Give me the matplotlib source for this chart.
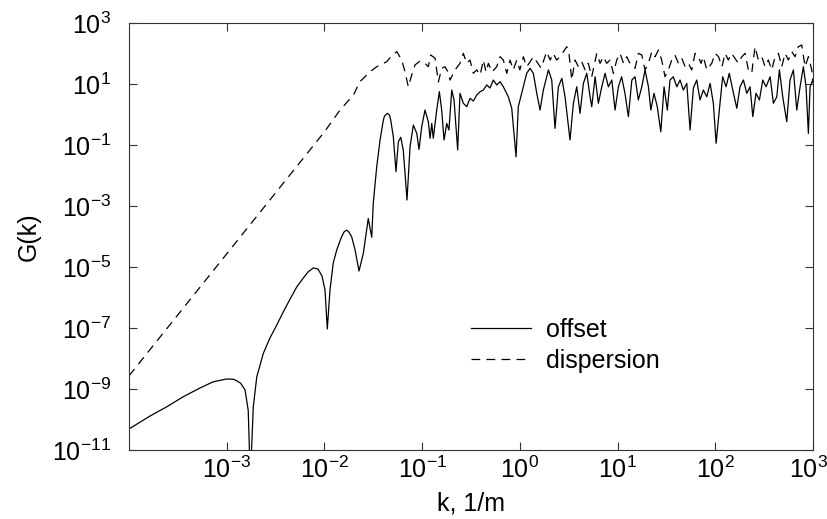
import matplotlib
matplotlib.use("Agg")
import matplotlib.pyplot as plt
from matplotlib.transforms import ScaledTranslation

plt.rcParams['font.family'] = ['Liberation Sans', 'DejaVu Sans']
plt.rcParams['mathtext.fontset'] = 'custom'
plt.rcParams['mathtext.rm'] = 'Liberation Sans'
plt.rcParams['mathtext.it'] = 'Liberation Sans:italic'
plt.rcParams['mathtext.bf'] = 'Liberation Sans:bold'

# ---- data ----
k_offset = [1.0e-4, 1.64e-4, 2.43e-4, 3.6e-4, 5.33e-4, 7.3e-4, 1.0e-3, 1.17e-3, 1.265e-3,
            1.39e-3, 1.54e-3, 1.66e-3, 1.745e-3, 1.87e-3, 2.03e-3, 2.37e-3, 2.77e-3,
            3.25e-3, 3.79e-3, 4.45e-3, 5.2e-3, 6.08e-3, 6.79e-3, 7.69e-3, 8.59e-3,
            9.44e-3, 1.014e-2, 1.07e-2, 1.14e-2, 1.23e-2, 1.336e-2, 1.48e-2, 1.585e-2,
            1.69e-2, 1.78e-2, 1.90e-2, 2.06e-2, 2.26e-2, 2.50e-2,
            2.81e-2, 3.05e-2, 3.16e-2, 3.43e-2, 3.71e-2, 4.01e-2, 4.12e-2, 4.41e-2,
            4.63e-2, 4.77e-2,
            5.07e-2, 5.40e-2, 5.71e-2, 6.04e-2, 6.41e-2, 7.0e-2, 7.52e-2, 8.13e-2,
            8.81e-2, 9.29e-2, 9.9e-2, 0.107, 0.1157, 0.1205, 0.1254, 0.130, 0.141,
            0.150, 0.1585, 0.1675, 0.1786, 0.188, 0.201, 0.212, 0.231, 0.244, 0.264,
            0.286, 0.309, 0.334, 0.362, 0.392, 0.423, 0.458, 0.495, 0.535, 0.580,
            0.627, 0.678, 0.762, 0.826, 0.914, 0.964, 1.086, 1.175, 1.27, 1.374,
            1.489, 1.61, 1.74, 1.96, 2.12, 2.29, 2.48, 2.69, 2.90, 3.26, 3.53, 3.82,
            4.13, 4.47, 4.84, 5.23, 5.44, 5.89, 6.36, 6.89, 7.45, 8.05, 8.73, 9.42,
            10.2, 11.0, 11.9, 12.9, 14.0, 15.1, 16.3, 17.7, 19.1, 20.7, 21.9, 23.6,
            25.5, 27.7, 29.9, 32.3, 34.4, 37.2, 40.4, 43.6, 47.1, 51.1, 55.2, 59.7,
            64.6, 69.8, 75.5, 81.8, 88.5, 95.5, 102, 110, 119, 129, 139, 151, 166,
            179, 194, 210, 227, 242, 261, 283, 306, 331, 364, 393, 426, 453, 490,
            539, 582, 630, 682, 737, 797, 849, 897, 933, 995]
G_offset = [4.9e-11, 1.3e-10, 2.6e-10, 5.6e-10, 1.08e-9, 1.73e-9, 2.13e-9, 2.09e-9, 1.87e-9,
            1.54e-9, 9.3e-10, 2.0e-10, 1.0e-12, 2.6e-10, 2.5e-9, 1.48e-8, 4.7e-8,
            1.25e-7, 3.35e-7, 8.9e-7, 2.2e-6, 4.36e-6, 6.85e-6, 9.3e-6, 8.6e-6,
            5.1e-6, 1.76e-6, 9.3e-8, 1.76e-6, 1.35e-5, 3.6e-5, 8.9e-5, 1.4e-4,
            1.63e-4, 1.4e-4, 9.8e-5, 3.6e-5, 7.4e-6, 2.8e-5,
            3.9e-4, 9.4e-5, 1.22e-3, 1.95e-2, 0.146, 0.66, 0.89, 1.09,
            0.96, 0.66,
            0.187, 1.33e-2, 0.128, 0.179, 0.0686, 1.57e-3, 0.088, 0.45,
            0.24, 0.072, 0.40, 1.4, 0.58, 0.166, 0.51, 0.166, 1.4,
            5.6, 1.4, 0.146, 0.51, 0.31, 6.35, 3.0, 0.069, 4.95, 2.33,
            1.8, 3.4, 2.77, 4.35, 5.6, 6.35, 9.3, 7.4, 13.5, 9.3,
            11.9, 8.1, 3.8, 1.6, 0.041, 1.8, 8.1, 22.4, 32.7, 22.4,
            4.95, 1.4, 6.35, 29, 13.5, 0.35, 8.1, 15.4, 3.8, 0.146, 2.33, 8.1,
            1.09, 10.5, 22.4, 3.8, 1.8, 17.3, 2.33, 8.1, 22.4, 8.1, 13.5, 1.4,
            8.1, 17.3, 4.95, 0.85, 13.5, 17.3, 3.0, 8.1, 29, 8.1, 1.4, 4.95,
            1.8, 0.27, 8.1, 1.4, 13.5, 17.3, 8.1, 13.5, 6.35, 10.5, 0.31, 7.4,
            13.5, 3.0, 6.35, 3.8, 10.5, 2.33, 0.114, 1.4, 17.3, 8.1, 22.4, 6.35, 1.6,
            8.1, 13.5, 4.95, 8.1, 0.85, 4.95, 3.0, 13.5, 8.1, 17.3, 2.33, 3.8, 29, 3.8,
            0.58, 13.5, 29, 1.4, 8.1, 36.9, 8.1, 0.24, 8.1, 13.5]

k_dispersion = [1.0e-4, 1.0e-3, 1.0e-2, 1.445e-2, 1.98e-2, 2.31e-2, 2.60e-2, 2.93e-2,
                3.43e-2, 4.34e-2, 4.89e-2, 5.50e-2, 6.18e-2, 6.68e-2, 7.22e-2, 7.82e-2,
                8.45e-2, 9.51e-2, 0.107, 0.1157, 0.1225, 0.1355, 0.1466, 0.1585, 0.1714,
                0.184, 0.193, 0.217, 0.244, 0.264, 0.286, 0.309, 0.334, 0.362, 0.392,
                0.423, 0.451, 0.476, 0.519, 0.580, 0.627, 0.678, 0.734, 0.794, 0.857,
                0.929, 1.0, 1.086, 1.175, 1.27, 1.374, 1.489, 1.65, 1.88, 2.04, 2.20,
                2.38, 2.58, 2.79, 3.02, 3.18, 3.40, 3.67, 3.97, 4.30, 4.65, 5.02, 5.44,
                6.12, 6.62, 7.15, 7.74, 8.38, 9.06, 9.81, 10.6, 11.5, 12.4, 13.4, 15.1,
                16.3, 17.7, 19.1, 20.7, 22.4, 24.2, 26.2, 28.3, 30.6, 33.1, 35.8, 38.7,
                41.9, 45.4, 49.1, 53.0, 57.4, 62.1, 67.1, 71.5, 75.5, 81.8, 92.0, 99.5,
                108, 117, 126, 136, 147, 159, 172, 187, 202, 218, 236, 255, 276, 299,
                323, 349, 378, 409, 443, 479, 518, 560, 607, 655, 708, 767, 830, 897,
                972, 995]
G_dispersion = [2.7e-9, 2.7e-5, 0.27, 1.4, 4.35, 11.9, 17.3, 25.3,
                36.9, 53.8, 84.7, 115, 61, 25.3, 8.1, 19.7,
                42, 56.8, 47.7, 36.9, 89, 69.7, 11.6, 32.7, 36.9,
                24.7, 13.5, 29, 47.7, 101, 47.7, 61, 22.4, 29, 19.7,
                61, 24.7, 47.7, 24.7, 36.9, 78.5, 61, 22.4, 61, 29,
                61, 29, 78.5, 36.9, 52.6, 78.5, 53.8, 33.4, 115, 61, 101,
                61, 78.5, 115, 167, 101, 13.5, 61, 36.9, 53.8, 29, 47.7, 17.3,
                101, 47.7, 78.5, 47.7, 61, 22.4, 61, 101, 47.7, 78.5, 47.7, 32.7,
                101, 89, 29, 47.7, 115, 78.5, 130, 61, 17.3, 29, 61, 89,
                47.7, 69.7, 36.9, 47.7, 29, 101, 78.5, 47.7, 78.5, 29, 47.7, 101,
                78.5, 36.9, 101, 61, 101, 69.7, 47.7, 78.5, 101, 29, 22.4, 167, 61, 78.5,
                36.9, 61, 29, 78.5, 101, 36.9, 101, 61, 115, 78.5, 167, 190, 36.9, 78.5,
                29, 10.8]

series_labels = ["offset", "dispersion"]
x_tick_values = [1e-3, 1e-2, 1e-1, 1e0, 1e1, 1e2, 1e3]
x_tick_labels = [r"$10^{-3}$", r"$10^{-2}$", r"$10^{-1}$", r"$10^{0}$", r"$10^{1}$", r"$10^{2}$", r"$10^{3}$"]
y_tick_values = [1e-11, 1e-9, 1e-7, 1e-5, 1e-3, 1e-1, 1e1, 1e3]
y_tick_labels = [r"$10^{-11}$", r"$10^{-9}$", r"$10^{-7}$", r"$10^{-5}$", r"$10^{-3}$", r"$10^{-1}$", r"$10^{1}$", r"$10^{3}$"]

fig = plt.figure(figsize=(8.28, 5.19), dpi=100)
ax = fig.add_axes([129/828, 1 - 450/519, (813 - 129)/828, (450 - 23)/519])

ax.plot(k_offset, G_offset, color='black', lw=0.9, label=series_labels[0])
ax.plot(k_dispersion, G_dispersion, color='black', lw=0.9, dashes=(7, 5), label=series_labels[1])

ax.set_xscale('log')
ax.set_yscale('log')
ax.set_xlim(1e-4, 1e3)
ax.set_ylim(1e-11, 1e3)

ax.set_xticks(x_tick_values)
ax.set_xticklabels(x_tick_labels)
ax.set_yticks(y_tick_values)
ax.set_yticklabels(y_tick_labels)
ax.minorticks_off()
ax.tick_params(which='both', direction='in', length=6, width=0.8, top=True, right=True,
               labelsize=18, color='#333333')
ax.tick_params(axis='y', pad=13)
ax.tick_params(axis='x', pad=5)
for s in ax.spines.values():
    s.set_linewidth(0.8)
    s.set_color('#333333')

# keep the right-most x label inside the figure
last = ax.get_xticklabels()[-1]
last.set_transform(last.get_transform() + ScaledTranslation(-5/100, 0, fig.dpi_scale_trans))

ax.set_xlabel("k, 1/m", fontsize=18, labelpad=6)
ax.set_ylabel("G(k)", fontsize=18, labelpad=8)

leg = ax.legend(loc='upper left', bbox_to_anchor=(0.5, 0.31), frameon=False,
                fontsize=18, handlelength=2.4, handletextpad=0.6, labelspacing=0.28,
                borderpad=0, borderaxespad=0)

fig.savefig("out.png", dpi=100)
